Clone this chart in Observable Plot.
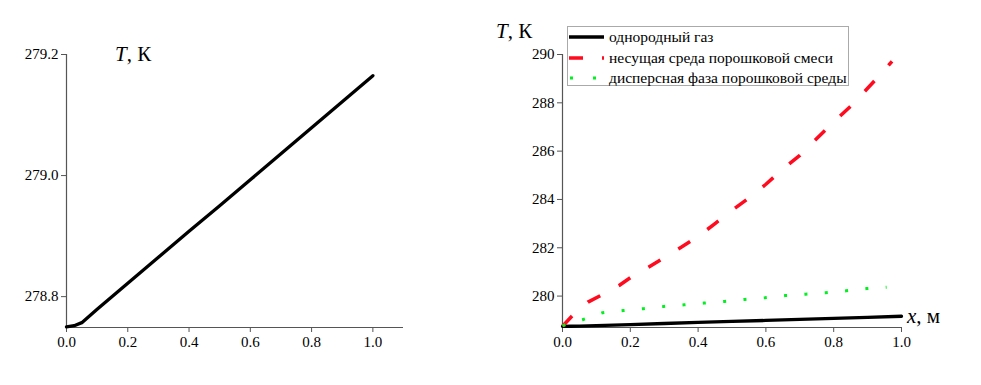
<!DOCTYPE html>
<html>
<head>
<meta charset="utf-8">
<script src="https://cdn.jsdelivr.net/npm/d3@7"></script>
<script src="https://cdn.jsdelivr.net/npm/@observablehq/plot@0.6"></script>
<style>
  body { margin: 0; background: #fff; }
  #wrap { position: relative; width: 981px; height: 385px; font-family: "Liberation Serif", "Times New Roman", serif; }
  .plot { position: absolute; top: 0; }
  .lab { position: absolute; font-size: 21px; color: #000; white-space: nowrap; line-height: 1; }
  .lab i { font-style: italic; }
  #legend { position: absolute; left: 567px; top: 26px; width: 280px; height: 58px; border: 1px solid #aaa; background: #fff; font-size: 15.5px; }
  #legend .row { position: absolute; left: 0; height: 20px; display: flex; align-items: center; }
  #legend svg { display: block; }
  #legend span { margin-left: 5px; white-space: nowrap; }
</style>
</head>
<body>
<div id="wrap"></div>
<script>
// x coordinate, m
const xGas = [0, 0.025, 0.05, 0.1, 0.2, 0.3, 0.4, 0.5, 0.6, 0.7, 0.8, 0.9, 1.0];
// homogeneous gas temperature, K
const tGas = [278.750, 278.752, 278.757, 278.779, 278.822, 278.865, 278.908, 278.950, 278.993, 279.036, 279.079, 279.122, 279.165];

// carrier phase of powder mixture
const xCarrier = [0, 0.03, 0.075, 0.113, 0.167, 0.2, 0.25, 0.3, 0.35, 0.4, 0.45, 0.5, 0.55, 0.6, 0.65, 0.7, 0.75, 0.8, 0.85, 0.9, 0.95, 0.972];
const tCarrier = [278.75, 279.2, 279.75, 280.03, 280.44, 280.76, 281.16, 281.59, 282.02, 282.47, 283.0, 283.55, 284.06, 284.63, 285.26, 285.82, 286.52, 287.21, 287.86, 288.6, 289.36, 289.72];

// dispersed phase of powder medium
const xDisp = [0, 0.059, 0.118, 0.179, 0.239, 0.298, 0.359, 0.417, 0.478, 0.538, 0.597, 0.657, 0.717, 0.776, 0.837, 0.897, 0.956];
const tDisp = [278.78, 279.02, 279.31, 279.40, 279.48, 279.57, 279.64, 279.71, 279.78, 279.86, 279.93, 280.02, 280.08, 280.14, 280.22, 280.31, 280.37];

const leftXTicks = [0, 0.2, 0.4, 0.6, 0.8, 1.0];
const leftYTicks = [278.8, 279.0, 279.2];
const rightXTicks = [0, 0.2, 0.4, 0.6, 0.8, 1.0];
const rightYTicks = [280, 282, 284, 286, 288, 290];

const seriesNames = ["однородный газ", "несущая среда порошковой смеси", "дисперсная фаза порошковой среды"];
const seriesColors = ["#000000", "#ff0a1e", "#00f020"];

const gas = xGas.map((x, i) => ({x, t: tGas[i]}));
const carrier = xCarrier.map((x, i) => ({x, t: tCarrier[i]}));
const disp = xDisp.map((x, i) => ({x, t: tDisp[i]}));

const serif = "Liberation Serif";
const axisColor = "#555";
const txt = {fontFamily: serif, fontSize: 15, fill: "#000"};

const wrap = document.getElementById("wrap");

function fixFonts(svg) {
  svg.setAttribute("font-family", "Liberation Serif, serif");
  svg.setAttribute("font-size", "15");
  svg.querySelectorAll("text").forEach(el => {
    el.style.fontFamily = "'Liberation Serif', serif";
    el.style.fontSize = "15px";
  });
}

// Left chart
const leftY = [278.749, 279.2];
const left = Plot.plot({
  width: 420, height: 385,
  marginLeft: 66, marginRight: 17, marginTop: 54, marginBottom: 58,
  x: {domain: [0, 1.1], label: null},
  y: {domain: leftY, label: null},
  marks: [
    Plot.axisX({...txt, ticks: leftXTicks, tickFormat: d3.format(".1f"), label: null, tickSize: 5, tickPadding: 4, stroke: axisColor}),
    Plot.axisY({...txt, ticks: leftYTicks, tickFormat: d3.format(".1f"), label: null, tickSize: 5, tickPadding: 3, stroke: axisColor}),
    Plot.ruleY([leftY[0]], {stroke: axisColor, strokeWidth: 1.2}),
    Plot.ruleX([0], {stroke: axisColor, strokeWidth: 1.2}),
    Plot.line(gas, {x: "x", y: "t", stroke: seriesColors[0], strokeWidth: 3.3})
  ]
});
fixFonts(left);
left.classList.add("plot");
left.style.left = "0px";
wrap.appendChild(left);

// Right chart
const rightY = [278.7, 290];
const right = Plot.plot({
  width: 500, height: 385,
  marginLeft: 82, marginRight: 79, marginTop: 54, marginBottom: 58,
  x: {domain: [0, 1], label: null},
  y: {domain: rightY, label: null},
  marks: [
    Plot.axisX({...txt, ticks: rightXTicks, tickFormat: d3.format(".1f"), label: null, tickSize: 5, tickPadding: 4, stroke: axisColor}),
    Plot.axisY({...txt, ticks: rightYTicks, tickFormat: d3.format("d"), label: null, tickSize: 5, tickPadding: 3, stroke: axisColor}),
    Plot.ruleY([rightY[0]], {stroke: axisColor, strokeWidth: 1.2}),
    Plot.ruleX([0], {stroke: axisColor, strokeWidth: 1.2}),
    Plot.line(gas, {x: "x", y: "t", stroke: seriesColors[0], strokeWidth: 3.3}),
    Plot.line(carrier, {x: "x", y: "t", stroke: seriesColors[1], strokeWidth: 3.5, strokeDasharray: "14,21", strokeLinecap: "butt"}),
    Plot.line(disp, {x: "x", y: "t", stroke: seriesColors[2], strokeWidth: 3, strokeDasharray: "3,17.4", strokeLinecap: "butt"})
  ]
});
fixFonts(right);
right.classList.add("plot");
right.style.left = "480px";
wrap.appendChild(right);

// Axis labels
function addLabel(html, l, t) {
  const d = document.createElement("div");
  d.className = "lab";
  d.innerHTML = html;
  d.style.left = l + "px";
  d.style.top = t + "px";
  wrap.appendChild(d);
}
addLabel("<i>T</i>, К", 115, 44);
addLabel("<i>T</i>, К", 496, 21);
addLabel("<i>x</i>, м", 907, 306);

// Legend
const legend = document.createElement("div");
legend.id = "legend";
const rowTops = [0, 21, 41];
const samples = [
  '<svg width="36" height="20"><line x1="1" y1="10" x2="36" y2="10" stroke="' + seriesColors[0] + '" stroke-width="3.3"/></svg>',
  '<svg width="36" height="20"><line x1="1" y1="10" x2="36" y2="10" stroke="' + seriesColors[1] + '" stroke-width="3.5" stroke-dasharray="14,19"/></svg>',
  '<svg width="36" height="20"><line x1="2" y1="10" x2="36" y2="10" stroke="' + seriesColors[2] + '" stroke-width="3" stroke-dasharray="3,20"/></svg>'
];
seriesNames.forEach((name, i) => {
  const r = document.createElement("div");
  r.className = "row";
  r.style.top = rowTops[i] + "px";
  r.innerHTML = samples[i] + "<span>" + name + "</span>";
  legend.appendChild(r);
});
wrap.appendChild(legend);
</script>
</body>
</html>
